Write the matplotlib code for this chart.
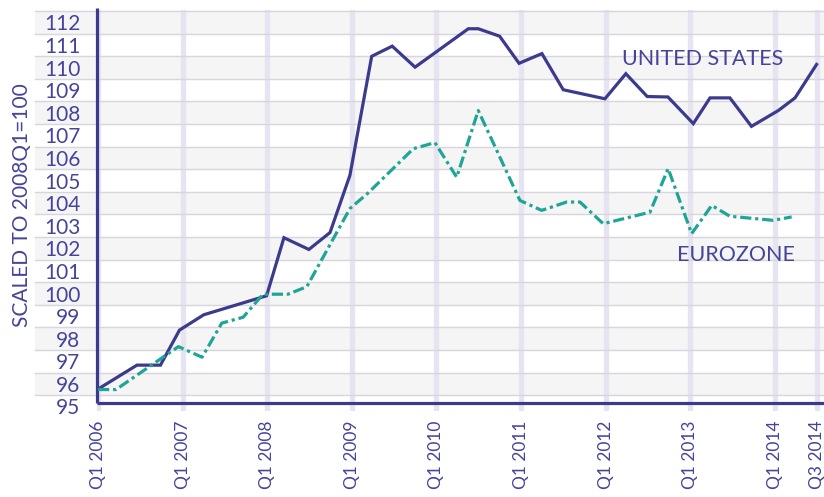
import matplotlib
matplotlib.use("Agg")
import matplotlib.pyplot as plt
from matplotlib.patches import Rectangle
from matplotlib.lines import Line2D

# ---- data (x in quarters since Q1 2006) ----
us_q = [0, 1.84, 2.95, 3.85, 5.0, 7.97, 8.79, 9.97, 10.97, 11.91, 12.94, 13.91, 14.99,
        17.51, 17.98, 18.99, 19.91, 20.99, 22.0, 23.97, 24.96, 25.97, 26.95, 28.15,
        28.94, 29.88, 30.9, 32.17, 32.96, 33.98]
us_v = [95.77, 96.83, 96.83, 98.38, 99.06, 99.9, 102.47, 101.95, 102.7, 105.23, 110.5,
        110.95, 110.02, 111.72, 111.72, 111.39, 110.19, 110.62, 109.02, 108.62, 109.73,
        108.72, 108.7, 107.52, 108.66, 108.66, 107.4, 108.1, 108.66, 110.14]

ez_q = [0, 0.85, 3.8, 4.92, 5.85, 6.86, 7.8, 8.98, 9.87, 11.91, 12.77, 14.91, 15.93,
        16.96, 17.98, 19.95, 20.98, 22.16, 22.79, 23.89, 26.1, 26.96, 28.07, 29.02,
        29.88, 31.93, 32.8]
ez_v = [95.75, 95.75, 97.65, 97.18, 98.69, 98.95, 99.97, 99.97, 100.3, 103.76, 104.45,
        106.41, 106.68, 105.15, 108.1, 104.12, 103.68, 104.05, 104.05, 103.09, 103.6,
        105.53, 102.65, 103.9, 103.42, 103.24, 103.39]

tick_q = [0, 4, 8, 12, 16, 20, 24, 28, 32, 34]
tick_labels = ["Q1 2006", "Q1 2007", "Q1 2008", "Q1 2009", "Q1 2010", "Q1 2011",
               "Q1 2012", "Q1 2013", "Q1 2014", "Q3 2014"]
y_ticks = list(range(95, 113))
y_label = "SCALED TO 2008Q1=100"
us_name = "UNITED STATES"
ez_name = "EUROZONE"

NAVY = "#3b3a8c"
TEXT = "#45449a"
TEAL = "#1fa596"
FONT = ["Lato", "DejaVu Sans"]

plt.rcParams["font.family"] = FONT

fig = plt.figure(figsize=(8.24, 4.97), dpi=100)
ax = fig.add_axes([97 / 824, 1 - 411 / 497, (824 - 97) / 824, (411 - 10) / 497])
x0, x1 = -0.05, 34.33
ax.set_xlim(x0, x1)
ax.set_ylim(94.8, 112.55)
for s in ax.spines.values():
    s.set_visible(False)

# bands and horizontal lines extending under the tick labels
band_left = -2.98
for v in y_ticks:
    if v % 2 == 0:
        ax.add_patch(Rectangle((band_left, v - 0.5), x1 - band_left, 1.0,
                               facecolor="#f5f5f6", edgecolor="none",
                               clip_on=False, zorder=0))
for v in y_ticks:
    ax.add_line(Line2D([band_left, x1], [v + 0.5, v + 0.5], color="#d6d6dc",
                       lw=1.0, clip_on=False, zorder=0.6))

# vertical grid
for q in tick_q:
    ax.axvline(q, color="#e6e4f0", lw=3.8, zorder=0.5)

# axis lines
ax.add_line(Line2D([x0, x0], [95.16, 112.62], color=NAVY, lw=2.3,
                   clip_on=False, zorder=3, solid_capstyle="butt"))
ax.add_line(Line2D([x0, x1], [95.16, 95.16], color=NAVY, lw=2.3,
                   clip_on=False, zorder=3, solid_capstyle="butt"))

# series
ax.plot(us_q, us_v, color=NAVY, lw=2.3, zorder=4, solid_joinstyle="miter")
ax.plot(ez_q, ez_v, color=TEAL, lw=2.3, zorder=4, dashes=(3.5, 1.2, 1.0, 1.2),
        dash_capstyle="butt")

ax.set_yticks(y_ticks)
ax.set_yticklabels([str(v) for v in y_ticks])
ax.set_xticks(tick_q)
ax.set_xticklabels(tick_labels, rotation=90, va="top", ha="center")
ax.tick_params(axis="y", length=0, pad=12, labelsize=15, labelcolor=TEXT)
ax.tick_params(axis="x", length=0, pad=7, labelsize=12.5, labelcolor=TEXT)

ax.text(24.8, 110.36, us_name, color=TEXT, fontsize=15.5, va="center", ha="left", zorder=5)
ax.text(27.4, 101.7, ez_name, color=TEXT, fontsize=15.5, va="center", ha="left", zorder=5)

fig.text(22 / 824, 1 - 205 / 497, y_label, rotation=90, color=TEXT, fontsize=15,
         ha="center", va="center")

fig.savefig("out.png", dpi=100)
